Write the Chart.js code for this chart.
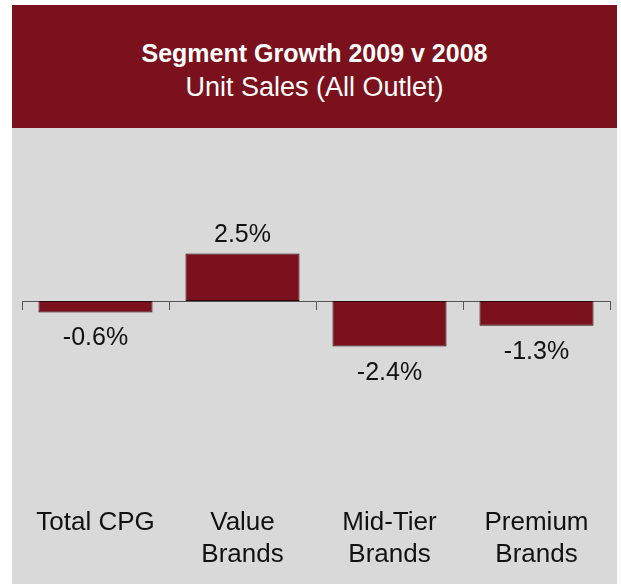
<!DOCTYPE html>
<html>
<head>
<meta charset="utf-8">
<script src="https://cdn.jsdelivr.net/npm/chart.js@4/dist/chart.umd.min.js"></script>
<style>
  html, body { margin: 0; padding: 0; background: #ffffff; width: 621px; height: 584px; overflow: hidden; }
  #header { position: absolute; left: 12px; top: 5px; width: 605px; height: 123px; background: #7A111C; color: #ffffff; font-family: "Liberation Sans", Arial, Helvetica, sans-serif; }
  #title { position: absolute; left: 0; width: 100%; top: 36px; text-align: center; font-weight: bold; font-size: 25px; line-height: 25px; }
  #subtitle { position: absolute; left: 0; width: 100%; top: 69px; text-align: center; font-size: 27px; line-height: 27px; }
  #panel { position: absolute; left: 12px; top: 128px; width: 605px; height: 456px; background: #D9D9D9; }
  canvas { display: block; }
</style>
</head>
<body>
<div id="header">
  <div id="title">Segment Growth 2009 v 2008</div>
  <div id="subtitle">Unit Sales (All Outlet)</div>
</div>
<div id="panel"><canvas id="c" width="605" height="456"></canvas></div>
<script>
const categories = [["Total CPG"], ["Value", "Brands"], ["Mid-Tier", "Brands"], ["Premium", "Brands"]];
const growthPct = [-0.6, 2.5, -2.4, -1.3];

const FONT = "'Liberation Sans', Arial, Helvetica, sans-serif";

const valueLabels = {
  id: 'valueLabels',
  afterDatasetsDraw(chart) {
    const ctx = chart.ctx;
    const meta = chart.getDatasetMeta(0);
    ctx.save();
    ctx.font = '25px ' + FONT;
    ctx.fillStyle = '#111111';
    ctx.textAlign = 'center';
    ctx.textBaseline = 'alphabetic';
    meta.data.forEach((bar, i) => {
      const v = growthPct[i];
      const txt = v.toFixed(1) + '%';
      const y = v >= 0 ? bar.y - 12 : bar.y + 33;
      ctx.fillText(txt, bar.x, y);
    });
    ctx.restore();
  }
};

new Chart(document.getElementById('c'), {
  type: 'bar',
  data: {
    labels: categories,
    datasets: [{
      data: growthPct,
      backgroundColor: '#7A111C',
      borderColor: '#2b0609',
      borderWidth: 1,
      borderSkipped: false,
      categoryPercentage: 1.0,
      barPercentage: 0.776
    }]
  },
  options: {
    responsive: false,
    animation: false,
    devicePixelRatio: 1,
    layout: { padding: { left: 10, right: 7, top: 97, bottom: 5 } },
    plugins: { legend: { display: false }, tooltip: { enabled: false }, title: { display: false } },
    scales: {
      y: { display: false, min: -10.4, max: 4 },
      x: {
        position: 'bottom',
        grid: { display: false, drawTicks: false },
        border: { display: false },
        ticks: { color: '#111111', font: { family: FONT, size: 26, lineHeight: 1.2 }, padding: 9, maxRotation: 0, minRotation: 0, autoSkip: false }
      },
      x2: {
        type: 'category',
        axis: 'x',
        labels: categories,
        position: { y: 0 },
        offset: true,
        grid: { display: true, offset: true, drawOnChartArea: false, drawTicks: true, tickLength: 8, color: '#555555', lineWidth: 1 },
        border: { display: true, color: '#555555', width: 1 },
        ticks: { display: false }
      }
    }
  },
  plugins: [valueLabels]
});
</script>
</body>
</html>
